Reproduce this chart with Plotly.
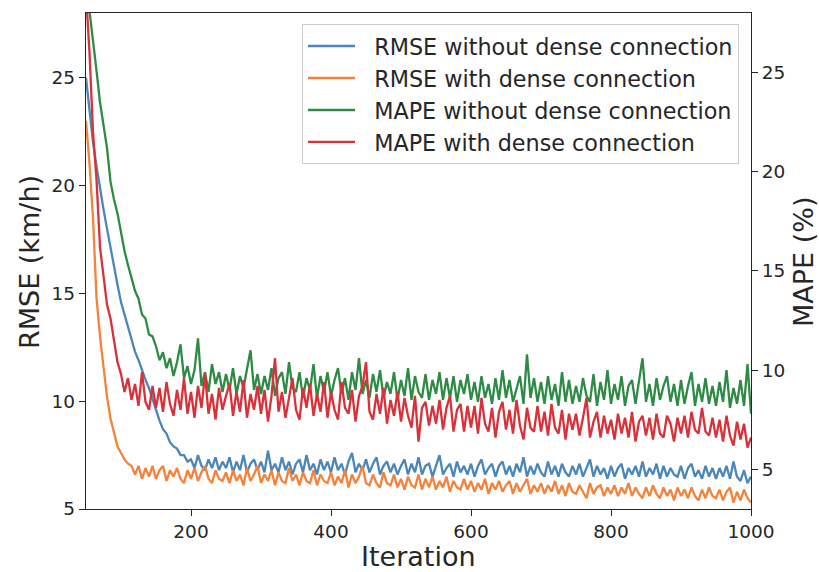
import plotly.graph_objects as go

# iterations: 50, 55, ..., 1000
ITER_START = 50
ITER_STEP = 5
iterations = list(range(ITER_START, 1001, ITER_STEP))

rmse_without = [
    25.0, 23.4, 22.0, 20.9, 19.8, 18.9, 18.0, 17.1, 16.2, 15.4,
    14.6, 14.0, 13.4, 12.9, 12.3, 11.9, 11.4, 11.0, 10.6, 10.1,
    9.5, 9.1, 8.7, 8.5, 8.1, 7.9, 7.8, 7.5, 7.5, 7.2,
    7.3, 6.9, 7.5, 7.0, 6.8, 7.3, 6.9, 7.4, 6.8, 7.2,
    6.9, 7.4, 6.7, 7.2, 6.8, 7.5, 6.7, 7.1, 7.3, 6.8,
    7.2, 6.7, 7.7, 6.8, 7.1, 6.7, 7.4, 6.8, 7.2, 6.6,
    7.1, 7.3, 6.7, 7.5, 6.8, 7.1, 6.6, 7.3, 6.8, 7.2,
    6.7, 7.4, 6.8, 7.1, 6.6, 7.2, 7.6, 6.7, 7.1, 6.8,
    7.3, 6.7, 7.1, 7.4, 6.6, 7.0, 7.2, 6.7, 7.1, 6.6,
    7.0, 7.3, 6.6, 7.1, 6.7, 7.4, 6.6, 7.0, 7.1, 6.5,
    7.0, 7.5, 6.6, 6.9, 7.1, 6.5, 7.2, 6.7, 7.0, 6.6,
    7.1, 6.5, 7.0, 7.3, 6.6, 6.9, 7.1, 6.5, 7.0, 7.2,
    6.6, 7.0, 6.5, 7.1, 6.7, 7.4, 6.5, 7.0, 6.6, 7.1,
    6.7, 6.5, 7.2, 6.6, 7.0, 6.5, 7.1, 6.7, 6.5, 7.0,
    6.6, 7.1, 6.5, 6.9, 7.3, 6.5, 7.0, 6.6, 6.9, 6.4,
    7.0, 6.5, 6.9, 7.1, 6.4, 6.9, 6.6, 7.0, 6.5, 7.2,
    6.5, 6.9, 6.6, 7.1, 6.4, 7.0, 6.5, 6.9, 6.6, 6.5,
    7.0, 6.4, 6.9, 7.1, 6.5, 6.8, 6.4, 7.0, 6.5, 6.9,
    6.4, 6.9, 6.5, 7.0, 6.4, 7.2, 6.5, 6.3, 6.8, 6.2,
    6.5,
]

rmse_with = [
    23.0, 21.0, 18.5, 14.8, 13.0, 11.6, 10.2, 9.2, 8.5, 7.9,
    7.6, 7.3, 7.1, 7.0, 6.6, 7.0, 6.4, 6.9, 6.5, 7.0,
    6.4, 6.8, 7.0, 6.3, 6.8, 6.5, 6.9, 6.4, 6.2, 6.8,
    6.4, 6.9, 6.3, 6.7, 7.0, 6.4, 6.2, 6.8, 6.4, 6.3,
    6.7, 6.2, 6.8, 6.3, 6.6, 6.1, 6.9, 6.3, 6.6, 7.0,
    6.2, 6.6, 6.3, 6.8, 6.1, 6.7, 6.3, 6.2, 6.9, 6.3,
    6.6, 6.1, 6.7, 6.3, 6.2, 6.8, 6.1, 6.6, 6.3, 6.2,
    6.7, 6.1, 6.5, 6.2, 6.8, 6.0, 6.6, 6.2, 6.5, 7.0,
    6.2, 6.1, 6.6, 6.2, 6.0, 6.7, 6.2, 6.1, 6.6, 6.0,
    6.4, 5.9, 6.5, 6.1, 6.0, 6.6, 5.9, 6.4, 6.0, 6.5,
    5.9, 6.3, 6.0, 6.5, 5.8, 6.3, 6.0, 5.9, 6.4, 5.9,
    6.3, 5.8, 6.2, 5.9, 6.4, 5.7, 6.2, 5.9, 6.3, 5.8,
    6.1, 6.3, 5.7, 6.2, 5.8, 6.1, 6.4, 5.7, 6.1, 5.8,
    6.2, 5.7, 6.1, 5.8, 6.3, 5.7, 6.1, 5.6, 6.2, 5.8,
    5.7, 6.1, 5.8, 5.5, 6.2, 5.7, 6.0, 6.1, 5.6, 6.0,
    5.7, 6.1, 5.6, 6.0, 5.7, 6.2, 5.6, 6.0, 5.7, 5.5,
    6.0, 5.6, 6.1, 5.7, 5.5, 6.0, 5.6, 5.9, 5.4, 6.0,
    5.6, 5.9, 5.5, 6.0, 5.6, 5.4, 5.9, 5.5, 6.0, 5.6,
    5.5, 5.9, 5.4, 5.8, 6.0, 5.3, 5.8, 5.4, 5.9, 5.5,
    5.3,
]

mape_without = [
    29.6, 28.2, 26.6, 25.1, 23.5, 22.4, 21.2, 19.5, 18.6, 17.9,
    16.9, 16.0, 15.3, 14.7, 14.0, 13.6, 12.8, 12.6, 11.8, 11.7,
    11.2, 10.5, 10.9, 10.1, 10.6, 9.7, 10.4, 11.3, 9.6, 10.2,
    9.3, 10.0, 11.6, 9.2, 9.9, 8.9, 10.3, 9.3, 9.9, 8.9,
    9.8, 9.0, 10.1, 8.8, 9.7, 9.1, 10.0, 11.0, 9.0, 9.8,
    8.8, 9.7, 9.0, 10.1, 8.7, 9.6, 9.9, 8.8, 10.4, 9.1,
    8.9, 9.9, 8.6, 9.6, 9.0, 10.3, 8.6, 9.7, 8.9, 9.9,
    8.7, 9.5, 10.1, 8.8, 9.6, 8.5, 9.9, 9.0, 10.6, 8.8,
    9.5, 8.6, 9.8, 8.9, 10.0, 8.6, 9.4, 8.8, 9.9, 8.5,
    9.5, 8.7, 10.1, 8.5, 9.7, 8.9, 8.6, 9.8, 8.5, 9.5,
    8.8, 9.9, 8.5, 9.6, 8.6, 9.7, 8.4, 9.5, 8.8, 9.8,
    8.5, 9.4, 8.4, 9.7, 8.6, 9.3, 8.3, 9.6, 8.5, 10.0,
    8.6, 9.5, 8.4, 9.1, 9.7, 8.3, 10.8, 8.6, 9.6, 8.4,
    9.4, 8.3, 9.7, 8.5, 9.3, 8.2, 9.9, 8.4, 9.5, 8.3,
    9.2, 8.4, 9.6, 8.7, 8.4, 9.8, 8.2, 9.4, 8.5, 10.0,
    8.3, 9.3, 8.5, 9.7, 8.2, 9.2, 9.5, 8.3, 9.4, 10.6,
    8.4, 9.3, 8.2, 9.6, 8.5, 9.2, 9.7, 8.4, 9.3, 8.2,
    9.5, 8.3, 9.2, 9.9, 8.2, 9.3, 8.4, 9.6, 8.3, 9.2,
    8.2, 9.4, 8.4, 10.0, 8.1, 9.1, 8.3, 9.5, 8.2, 10.3,
    7.8,
]

mape_with = [
    29.0, 26.0, 22.0, 19.6, 16.2, 14.8, 13.3, 12.6, 11.5, 10.4,
    9.8, 8.9, 9.6, 8.5, 9.3, 8.2, 9.9, 8.4, 8.0, 9.2,
    8.1, 9.1, 7.9, 9.4, 8.3, 7.7, 9.0, 8.0, 9.6, 7.8,
    8.9, 7.6, 9.2, 8.1, 9.8, 7.8, 8.8, 7.5, 9.1, 8.0,
    8.7, 9.3, 7.7, 8.9, 7.9, 9.5, 7.6, 8.8, 8.0, 9.2,
    7.8, 9.0, 7.4, 8.7, 10.6, 7.9, 8.9, 7.6, 8.6, 9.6,
    8.0, 7.5, 9.1, 8.1, 9.3, 7.7, 8.8, 7.9, 9.4, 7.6,
    8.9, 8.0, 7.5, 9.4, 8.1, 7.8, 9.0, 7.4, 8.7, 9.2,
    10.4, 7.9, 7.5, 8.8, 7.8, 9.1, 7.3, 8.5, 7.7, 8.9,
    7.4, 8.6, 7.7, 7.1, 8.7, 6.4, 8.1, 8.4, 7.2, 8.2,
    7.3, 8.5, 7.0, 8.1, 8.7, 6.9, 8.0, 8.3, 6.9, 8.2,
    7.1, 8.2, 6.8, 8.6, 7.3, 6.9, 8.1, 6.6, 7.9, 8.4,
    7.0, 8.0, 6.8, 8.5, 7.2, 6.5, 8.1, 7.1, 6.9, 8.2,
    6.9, 7.9, 6.7, 8.3, 7.1, 6.8, 8.0, 6.5, 7.8, 7.0,
    7.8, 6.7, 7.6, 8.6, 6.6, 7.4, 7.9, 6.6, 7.7, 6.8,
    7.5, 6.5, 7.8, 6.8, 7.6, 6.6, 7.9, 6.4, 7.4, 7.7,
    6.7, 7.6, 6.5, 7.8, 6.8, 6.6, 7.7, 7.3, 6.4, 7.6,
    6.8, 7.7, 6.6, 7.9, 7.0, 6.8, 8.1, 6.9, 6.7, 7.6,
    6.6, 7.5, 6.4, 7.7, 6.7, 6.2, 7.4, 6.5, 7.3, 6.1,
    6.6,
]

series_names = [
    "RMSE without dense connection",
    "RMSE with dense connection",
    "MAPE without dense connection",
    "MAPE with dense connection",
]
series_colors = ["#4a86b8", "#f5823a", "#2e8b45", "#d9313a"]
series_axes = ["y", "y", "y2", "y2"]
series_values = [rmse_without, rmse_with, mape_without, mape_with]

x_ticks = [200, 400, 600, 800, 1000]
left_ticks = [5, 10, 15, 20, 25]
right_ticks = [5, 10, 15, 20, 25]

x_title = "Iteration"
left_title = "RMSE (km/h)"
right_title = "MAPE (%)"

FONT = "DejaVu Sans"
INK = "#262626"
W, H = 819, 572
ML, MR, MT, MB = 86, 68, 13, 63
PW, PH = W - ML - MR, H - MT - MB
NBSP = "\u00a0"

fig = go.Figure()
for name, color, ax, vals in zip(series_names, series_colors, series_axes, series_values):
    fig.add_trace(go.Scatter(
        x=iterations, y=vals, name=NBSP * 2 + name, mode="lines", yaxis=ax,
        line=dict(color=color, width=2.3),
    ))

axis_common = dict(
    showline=True, linecolor=INK, linewidth=1.3,
    ticks="outside", ticklen=6, tickwidth=1.3, tickcolor=INK,
    tickfont=dict(family=FONT, size=18.5, color=INK),
    showgrid=False, zeroline=False, automargin=False,
)

title_font = dict(family=FONT, size=27, color=INK)

fig.update_layout(
    width=W, height=H,
    margin=dict(l=ML, r=MR, t=MT, b=MB, autoexpand=False),
    paper_bgcolor="white", plot_bgcolor="white",
    font=dict(family=FONT, color=INK),
    xaxis=dict(range=[50, 1000], tickvals=x_ticks, mirror=True, **axis_common),
    yaxis=dict(range=[5, 28], tickvals=left_ticks, mirror=True, **axis_common),
    yaxis2=dict(range=[3, 28], tickvals=right_ticks, overlaying="y", side="right",
                **axis_common),
    legend=dict(
        x=(739 - ML) / PW, xanchor="right", y=1 - (24 - MT) / PH, yanchor="top",
        bgcolor="rgba(255,255,255,0.85)", bordercolor="#cccccc", borderwidth=1,
        font=dict(family=FONT, size=22.3, color=INK),
        itemwidth=47,
    ),
    showlegend=True,
    annotations=[
        dict(text=x_title, xref="paper", yref="paper", showarrow=False, borderpad=0,
             x=(418 - ML) / PW, y=1 - (556 - MT) / PH, xanchor="center", yanchor="middle",
             font=title_font),
        dict(text=left_title, xref="paper", yref="paper", showarrow=False, textangle=-90,
             borderpad=0,
             x=(29 - ML) / PW, y=1 - (262 - MT) / PH, xanchor="center", yanchor="middle",
             font=title_font),
        dict(text=right_title, xref="paper", yref="paper", showarrow=False, textangle=-90,
             borderpad=0,
             x=(803 - ML) / PW, y=1 - (262 - MT) / PH, xanchor="center", yanchor="middle",
             font=title_font),
    ],
)

fig.write_html(
    "out.html",
    config={"displayModeBar": False},
    post_script="document.body.style.margin='0px';document.body.style.overflow='hidden';",
)
